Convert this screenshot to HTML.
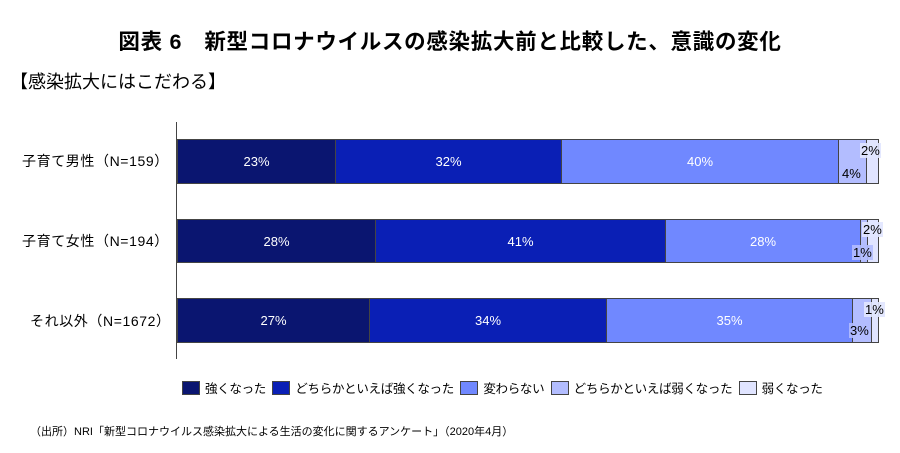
<!DOCTYPE html>
<html><head><meta charset="utf-8"><style>
body{margin:0;background:#fff;width:900px;height:453px;overflow:hidden;font-family:"Liberation Sans","Noto Sans CJK JP",sans-serif;color:#000}
.a{position:absolute;white-space:nowrap}
.s{position:absolute;box-sizing:border-box;border:1px solid #444;color:#fff;font-size:13px;display:flex;align-items:center;justify-content:center}
.sm{position:absolute;font-size:13px;background:rgba(225,229,255,.9);padding:0 1px;line-height:15px}
.lg{display:inline-block;width:18px;height:14px;border:1px solid #444;vertical-align:-2px;margin-right:5px;box-sizing:border-box}
</style></head><body>
<div class="a" style="left:0;width:900px;text-align:center;top:25px;font-size:21.5px;font-weight:bold;letter-spacing:0.7px">図表 6　新型コロナウイルスの感染拡大前と比較した、意識の変化</div>
<div class="a" style="left:10px;top:68px;font-size:18px">【感染拡大にはこだわる】</div>
<div class="a" style="left:176px;top:122px;width:1px;height:237px;background:#444"></div>

<div class="a" style="left:22px;top:151px;font-size:14px;letter-spacing:0.6px">子育て男性（N=159）</div>
<div class="s" style="left:177px;top:139px;width:159px;height:45px;background:#0a1570">23%</div>
<div class="s" style="left:335px;top:139px;width:227px;height:45px;background:#0a1fb5">32%</div>
<div class="s" style="left:561px;top:139px;width:278px;height:45px;background:#7088ff">40%</div>
<div class="s" style="left:838px;top:139px;width:29px;height:45px;background:#b3bdff"></div>
<div class="s" style="left:866px;top:139px;width:13px;height:45px;background:#e0e4ff"></div>
<div class="sm" style="left:860px;top:143px">2%</div>
<div class="sm" style="left:841px;top:166px;background:transparent">4%</div>

<div class="a" style="left:22px;top:231px;font-size:14px;letter-spacing:0.6px">子育て女性（N=194）</div>
<div class="s" style="left:177px;top:219px;width:199px;height:44px;background:#0a1570">28%</div>
<div class="s" style="left:375px;top:219px;width:291px;height:44px;background:#0a1fb5">41%</div>
<div class="s" style="left:665px;top:219px;width:196px;height:44px;background:#7088ff">28%</div>
<div class="s" style="left:860px;top:219px;width:8px;height:44px;background:#b3bdff"></div>
<div class="s" style="left:867px;top:219px;width:12px;height:44px;background:#e0e4ff"></div>
<div class="sm" style="left:862px;top:222px">2%</div>
<div class="sm" style="left:852px;top:245px;background:rgba(179,189,255,.9)">1%</div>

<div class="a" style="left:30px;top:311px;font-size:14px;letter-spacing:0.6px">それ以外（N=1672）</div>
<div class="s" style="left:177px;top:298px;width:193px;height:45px;background:#0a1570">27%</div>
<div class="s" style="left:369px;top:298px;width:238px;height:45px;background:#0a1fb5">34%</div>
<div class="s" style="left:606px;top:298px;width:247px;height:45px;background:#7088ff">35%</div>
<div class="s" style="left:852px;top:298px;width:20px;height:45px;background:#b3bdff"></div>
<div class="s" style="left:871px;top:298px;width:8px;height:45px;background:#e0e4ff"></div>
<div class="sm" style="left:864px;top:302px">1%</div>
<div class="sm" style="left:849px;top:323px;background:rgba(179,189,255,.9)">3%</div>

<div class="a" style="left:182px;top:378px;font-size:12.5px;letter-spacing:-0.3px">
<span class="lg" style="background:#0a1570"></span>強くなった&nbsp;
<span class="lg" style="background:#0a1fb5"></span>どちらかといえば強くなった&nbsp;
<span class="lg" style="background:#7088ff"></span>変わらない&nbsp;
<span class="lg" style="background:#b3bdff"></span>どちらかといえば弱くなった&nbsp;
<span class="lg" style="background:#e0e4ff"></span>弱くなった</div>
<div class="a" style="left:30px;top:423px;font-size:11px">（出所）NRI「新型コロナウイルス感染拡大による生活の変化に関するアンケート」（2020年4月）</div>
</body></html>
